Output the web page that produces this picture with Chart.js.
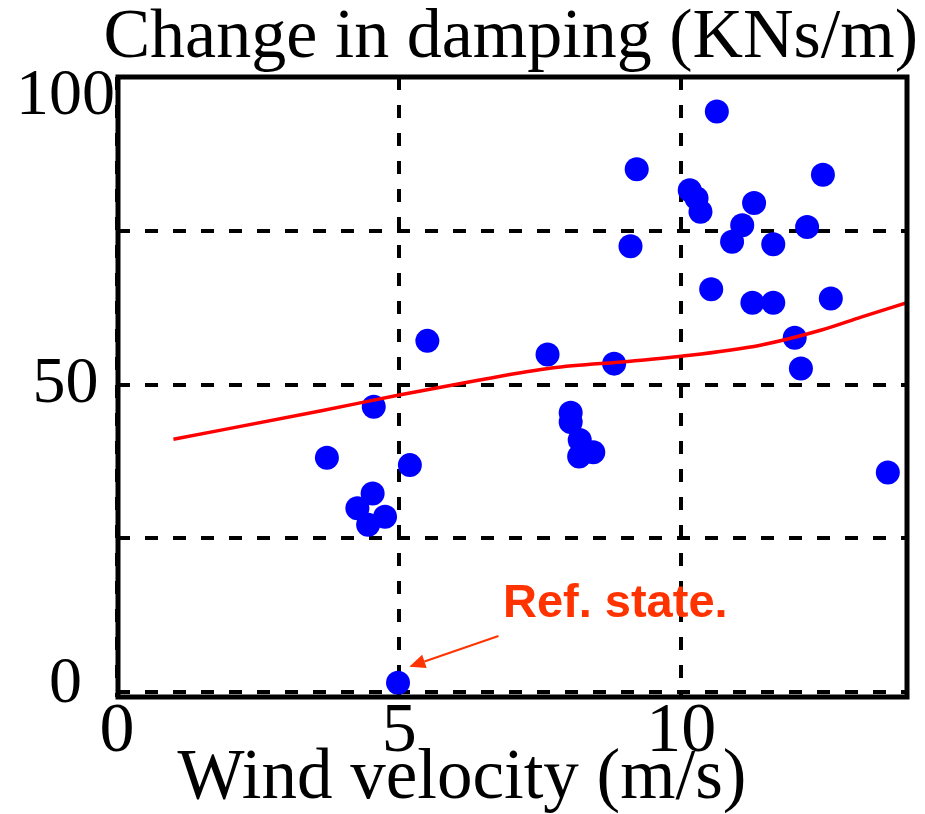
<!DOCTYPE html>
<html><head><meta charset="utf-8">
<script src="https://cdn.jsdelivr.net/npm/chart.js@4.4.0/dist/chart.umd.min.js"></script>
<style>html,body{margin:0;padding:0;background:#fff}#wrap{width:925px;height:814px}</style>
</head><body><div id="wrap"><canvas id="c" width="925" height="814"></canvas></div>
<script>
// Measured points: wind velocity (m/s) vs change in damping (KNs/m)
const windVelocity = [4.55, 3.72, 5.19, 4.53, 4.26, 4.75, 4.45, 5.50, 7.63, 8.81, 8.04, 8.04, 8.20, 8.44, 8.19,
  9.21, 9.10, 10.15, 10.27, 10.34, 11.29, 11.08, 10.90, 11.63, 12.23, 12.51, 10.53, 11.26, 11.63, 12.65,
  12.01, 12.12, 13.66, 10.63, 4.98];
const dampingChange = [46.4, 38.1, 36.9, 32.3, 29.9, 28.5, 27.2, 57.1, 54.9, 53.4, 45.4, 43.9, 41.0, 39.0, 38.3,
  85.0, 72.5, 81.6, 80.3, 78.1, 79.5, 75.9, 73.2, 72.8, 75.6, 84.1, 65.5, 63.3, 63.3, 64.0,
  57.6, 52.6, 35.7, 94.4, 1.5];
// Fitted trend curve
const fitVelocity = [1.0, 3.6, 5.0, 6.4, 7.7, 9.1, 10.0, 11.4, 12.5, 13.2, 14.0];
const fitDamping  = [41.1, 45.7, 48.3, 50.7, 52.7, 53.8, 54.6, 56.4, 58.9, 61.0, 63.3];
// Ticks
const xTickValues = [0, 5, 10];
const yTickValues = [0, 25, 50, 75, 100];
const yLabeledTicks = [0, 50, 100];
// Texts
const titleText = 'Change in damping (KNs/m)';
const xAxisText = 'Wind velocity (m/s)';
const refLabel = 'Ref. state.';

const noteCfg = { textX: 6.84, textY: 12.2, fromX: 6.76, fromY: 9.12, toX: 5.18, toY: 4.13, color: '#ff3300' };
// vertical nudge (px) of y tick labels, as in the original figure: + is down
const yLabelShift = { 0: -7, 50: 0, 100: 20 };

const notePlugin = {
  id: 'refNote',
  afterDatasetsDraw(chart) {
    const ctx = chart.ctx, xs = chart.scales.x, ys = chart.scales.y;
    const fx = xs.getPixelForValue(noteCfg.fromX), fy = ys.getPixelForValue(noteCfg.fromY);
    const tx = xs.getPixelForValue(noteCfg.toX), ty = ys.getPixelForValue(noteCfg.toY);
    ctx.save();
    ctx.strokeStyle = noteCfg.color; ctx.fillStyle = noteCfg.color;
    ctx.lineWidth = 2;
    const ang = Math.atan2(ty - fy, tx - fx);
    const hl = 16, hw = 7;
    const bx = tx - hl * Math.cos(ang), by = ty - hl * Math.sin(ang);
    ctx.beginPath(); ctx.moveTo(fx, fy); ctx.lineTo(bx, by); ctx.stroke();
    ctx.beginPath();
    ctx.moveTo(tx, ty);
    ctx.lineTo(bx + hw * Math.sin(ang), by - hw * Math.cos(ang));
    ctx.lineTo(bx - hw * Math.sin(ang), by + hw * Math.cos(ang));
    ctx.closePath(); ctx.fill();
    ctx.font = 'bold 47px "Liberation Sans", Arial, sans-serif';
    ctx.textBaseline = 'alphabetic'; ctx.textAlign = 'left';
    ctx.fillText(refLabel, xs.getPixelForValue(noteCfg.textX), ys.getPixelForValue(noteCfg.textY));
    ctx.restore();
  }
};

const framePlugin = {
  id: 'frame',
  afterDraw(chart) {
    const { ctx, chartArea: a } = chart;
    ctx.save();
    ctx.lineWidth = 5; ctx.strokeStyle = '#000';
    ctx.strokeRect(a.left + 1, a.top, a.right - a.left - 1, a.bottom - a.top);
    ctx.restore();
  }
};

const serif = '"Liberation Serif", "Times New Roman", serif';

function yLabel(v) {
  if (!yLabeledTicks.includes(v)) return '';
  const s = yLabelShift[v] || 0;
  if (s > 0) return ['', String(v)];
  if (s < 0) return [String(v), ''];
  return String(v);
}
function yFont(ctx) {
  const v = ctx.tick ? ctx.tick.value : null;
  const s = Math.abs(yLabelShift[v] || 0);
  return { family: serif, size: 66, lineHeight: s ? (2 * s) / 66 : 1 };
}

new Chart(document.getElementById('c'), {
  type: 'scatter',
  data: {
    datasets: [
      {
        type: 'line',
        label: 'fit',
        data: fitVelocity.map((v, i) => ({ x: v, y: fitDamping[i] })),
        borderColor: '#ff0000',
        borderWidth: 3.5,
        pointRadius: 0,
        fill: false,
        tension: 0.3,
        cubicInterpolationMode: 'monotone',
        order: 0
      },
      {
        label: 'measured',
        data: windVelocity.map((v, i) => ({ x: v, y: dampingChange[i] })),
        backgroundColor: '#0000ff',
        borderWidth: 0,
        pointRadius: 12,
        order: 1
      }
    ]
  },
  options: {
    responsive: false,
    animation: false,
    devicePixelRatio: 1,
    layout: { padding: { left: 6, right: 7, top: 0, bottom: 0 } },
    plugins: {
      legend: { display: false },
      tooltip: { enabled: false },
      title: {
        display: true, text: titleText, fullSize: true, align: 'end', color: '#000',
        font: { family: serif, size: 70, weight: 'normal', lineHeight: 1 },
        padding: { top: 4, bottom: 3 }
      },
      subtitle: {
        display: true, text: xAxisText, position: 'bottom', color: '#000',
        font: { family: serif, size: 71, weight: 'normal', lineHeight: 0.5 },
        padding: { top: 3, bottom: 16.5 }
      }
    },
    scales: {
      x: {
        type: 'linear', min: 0, max: 14,
        afterBuildTicks(s) { s.ticks = xTickValues.map(v => ({ value: v })); },
        afterFit(s) { s.height = 62; },
        grid: { color: '#000', lineWidth: 4, drawTicks: false },
        border: { display: false, dash: [13, 15] },
        ticks: { color: '#000', padding: 1, autoSkip: false, maxRotation: 0,
          font: { family: serif, size: 70, lineHeight: 1 } }
      },
      y: {
        type: 'linear', min: -0.8, max: 100,
        afterBuildTicks(s) { s.ticks = yTickValues.map(v => ({ value: v })); },
        afterFit(s) { s.width = 111; },
        grid: { color: '#000', lineWidth: 4, drawTicks: false },
        border: { display: false, dash: [13, 15] },
        ticks: { color: '#000', padding: 2, autoSkip: false, crossAlign: 'center',
          callback: v => yLabel(v),
          font: yFont }
      },
      yRight: {
        type: 'linear', position: 'right', min: -0.8, max: 100,
        afterFit(s) { s.width = 11; },
        grid: { display: false, drawOnChartArea: false, drawTicks: false },
        border: { display: false },
        ticks: { display: false }
      }
    }
  },
  plugins: [notePlugin, framePlugin]
});
</script>
</body></html>
